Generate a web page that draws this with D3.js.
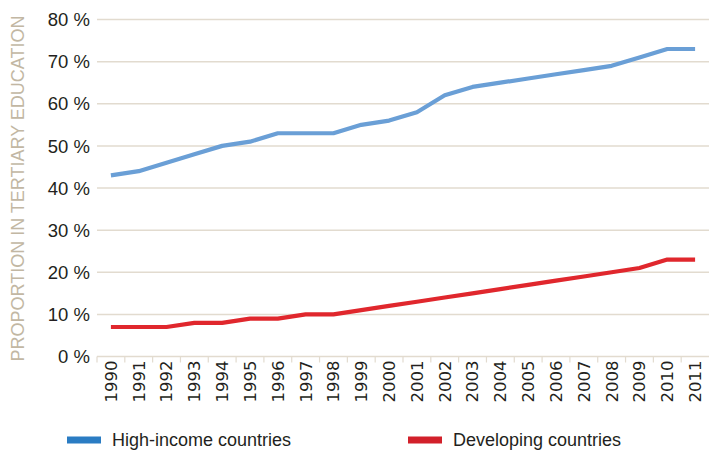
<!DOCTYPE html>
<html><head><meta charset="utf-8">
<script src="https://cdn.jsdelivr.net/npm/d3@7"></script>
<style>body{margin:0;background:#fff;} svg{display:block;font-family:"Liberation Sans",Arial,sans-serif;}</style>
</head><body><svg id="c" width="709" height="450"></svg>
<script>
const years = ["1990","1991","1992","1993","1994","1995","1996","1997","1998","1999","2000","2001","2002","2003","2004","2005","2006","2007","2008","2009","2010","2011"];
const highIncome = [43,44,46,48,50,51,53,53,53,55,56,58,62,64,65,66,67,68,69,71,73,73];
const developing = [7,7,7,8,8,9,9,10,10,11,12,13,14,15,16,17,18,19,20,21,23,23];
const yTicks = [0,10,20,30,40,50,60,70,80];
const seriesNames = ["High-income countries","Developing countries"];

const svg = d3.select("#c");
const m = {left:97, right:0, top:19.5, bottom:93.5};
const W = 709, H = 450;
const x = d3.scaleBand().domain(years).range([m.left, W - m.right]);
const y = d3.scaleLinear().domain([0,80]).range([H - m.bottom, m.top]);
const grid = "#e2dbcf";

// gridlines
svg.append("g").selectAll("line").data(yTicks.filter(d=>d>0)).join("line")
  .attr("x1", m.left).attr("x2", W).attr("y1", d=>y(d)).attr("y2", d=>y(d))
  .attr("stroke", grid).attr("stroke-width", 1.5);

// y labels
svg.append("g").selectAll("text").data(yTicks).join("text")
  .attr("x", 90).attr("y", d=>y(d)).attr("dy","0.36em")
  .attr("text-anchor","end").attr("font-size", 18.5).attr("fill","#231f20")
  .text(d=>d+" %");

// x axis
const xa = svg.append("g").attr("transform", `translate(0,${y(0)})`)
  .call(d3.axisBottom(x).tickSizeInner(6).tickSizeOuter(0));
xa.select(".domain").attr("stroke", grid).attr("stroke-width",1.5).attr("d", `M${m.left},0H${W}`);
xa.selectAll(".tick line").attr("stroke", grid).attr("stroke-width",1.2)
  .attr("transform", `translate(${-x.bandwidth()/2},0)`);
xa.selectAll(".tick text").attr("font-size", 16.5).attr("fill","#231f20")
  .attr("font-family","DejaVu Sans, sans-serif")
  .attr("transform","rotate(-90)").attr("text-anchor","end")
  .attr("x", -4).attr("y", 0).attr("dy","0.36em");

// y title
svg.append("text").attr("transform", `translate(24,${(10+367)/2}) rotate(-90)`)
  .attr("text-anchor","middle").attr("font-size", 18).attr("fill","#c2b7a3")
  .text("PROPORTION IN TERTIARY EDUCATION");

// lines
const line = d3.line().x((d,i)=>x(years[i]) + x.bandwidth()/2).y(d=>y(d));
svg.append("path").datum(highIncome).attr("d", line).attr("fill","none")
  .attr("stroke","#6a9fd6").attr("stroke-width",4.2).attr("stroke-linejoin","round");
svg.append("path").datum(developing).attr("d", line).attr("fill","none")
  .attr("stroke","#e0272d").attr("stroke-width",4.2).attr("stroke-linejoin","round");

// legend
const legend = [{name:seriesNames[0], color:"#2a7cc3", x:67}, {name:seriesNames[1], color:"#d2202a", x:408}];
const lg = svg.append("g").selectAll("g").data(legend).join("g")
  .attr("transform", d=>`translate(${d.x},440)`);
lg.append("rect").attr("x",0).attr("y",-3.5).attr("width",34).attr("height",7).attr("fill",d=>d.color);
lg.append("text").attr("x",45).attr("y",0).attr("dy","0.36em").attr("font-size",18).attr("fill","#231f20")
  .text(d=>d.name);
</script></body></html>
